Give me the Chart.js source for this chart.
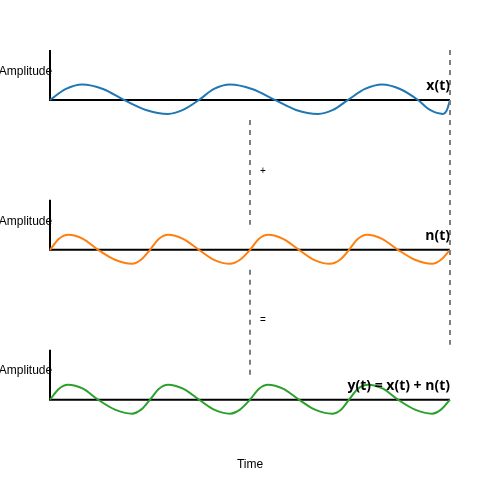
<!DOCTYPE html>
<html>
<head>
<meta charset="utf-8">
<script src="https://cdn.jsdelivr.net/npm/chart.js@4/dist/chart.umd.min.js"></script>
<style>
    html, body { margin: 0; padding: 0; background: #fff; }
    #wrap { width: 500px; height: 500px; }
</style>
</head>
<body>
<div id="wrap"><canvas id="signals"></canvas></div>
<script>
// Values (time 0..400, amplitude in arbitrary units)
const signalTimes = [0, 16, 32, 53, 74, 96, 118, 133, 149, 164, 180, 202, 225, 246, 268, 283, 298, 315, 332, 350, 368, 380, 393, 397, 400];
const signalValues = [0, 1.1, 1.55, 1.1, 0, -1.0, -1.4, -1.0, 0, 1.1, 1.55, 1.1, 0, -1.0, -1.4, -1.0, 0, 1.1, 1.55, 1.1, 0, -1.0, -1.4, -1.0, 0];

const noiseTimes = [0, 9, 18, 33, 48, 65, 82, 91, 100, 109, 118, 133, 149, 164, 180, 190, 200, 209, 218, 233, 249, 264, 280, 290, 299, 308, 317, 332, 348, 365, 382, 391, 400];
const noiseValues = [0, 1.1, 1.5, 1.1, 0, -1.0, -1.4, -1.0, 0, 1.1, 1.5, 1.1, 0, -1.0, -1.4, -1.0, 0, 1.1, 1.5, 1.1, 0, -1.0, -1.4, -1.0, 0, 1.1, 1.5, 1.1, 0, -1.0, -1.4, -1.0, 0];

const sumTimes = [0, 9, 18, 33, 48, 65, 82, 91, 100, 109, 118, 133, 149, 164, 180, 190, 200, 209, 218, 233, 249, 265, 282, 291, 299, 308, 318, 333, 348, 365, 382, 391, 400];
const sumValues = [0, 1.1, 1.5, 1.1, 0, -1.0, -1.4, -1.0, 0, 1.1, 1.5, 1.1, 0, -1.0, -1.4, -1.0, 0, 1.1, 1.5, 1.1, 0, -1.0, -1.4, -1.0, 0, 1.1, 1.5, 1.1, 0, -1.0, -1.4, -1.0, 0];

const panelLabels = ['x(t)', 'n(t)', 'y(t) = x(t) + n(t)'];
const panelColors = ['#1f77b4', '#ff7f0e', '#2ca02c'];
const operators = ['+', '='];
const axisIds = ['y1', 'y2', 'y3'];

function toPoints(times, values) {
    return times.map((t, i) => ({ x: t, y: values[i] }));
}

function panelScale(weight, min, max) {
    return {
        type: 'linear',
        display: false,
        stack: 'panels',
        stackWeight: weight,
        min: min,
        max: max
    };
}

// Axis lines under the curves
const axesPlugin = {
    id: 'panelAxes',
    beforeDatasetsDraw(chart) {
        const ctx = chart.ctx;
        const x = chart.scales.x;
        ctx.save();
        ctx.strokeStyle = '#000';
        ctx.lineWidth = 2;
        axisIds.forEach(id => {
            const y = chart.scales[id];
            const base = y.getPixelForValue(0);
            ctx.beginPath();
            ctx.moveTo(x.left, y.getPixelForValue(y.max));
            ctx.lineTo(x.left, base);
            ctx.lineTo(x.right, base);
            ctx.stroke();
        });
        ctx.restore();
    }
};

// Dashed guides, labels and operators on top
const notesPlugin = {
    id: 'panelNotes',
    afterDatasetsDraw(chart) {
        const ctx = chart.ctx;
        const x = chart.scales.x;
        const ys = axisIds.map(id => chart.scales[id]);
        const midX = x.getPixelForValue(200);

        ctx.save();
        ctx.strokeStyle = '#808080';
        ctx.lineWidth = 2;
        ctx.setLineDash([5, 5]);

        const segments = [
            [ys[0].getPixelForValue(-2), ys[1].getPixelForValue(2.5)],
            [ys[1].getPixelForValue(-2), ys[2].getPixelForValue(2.5)]
        ];
        segments.forEach(seg => {
            ctx.beginPath();
            ctx.moveTo(midX, seg[0]);
            ctx.lineTo(midX, seg[1]);
            ctx.stroke();
        });

        ctx.beginPath();
        ctx.moveTo(x.right, ys[0].getPixelForValue(ys[0].max));
        ctx.lineTo(x.right, ys[2].getPixelForValue(5.5));
        ctx.stroke();
        ctx.setLineDash([]);

        ctx.fillStyle = '#000';
        ys.forEach((y, i) => {
            ctx.font = '12px "Liberation Sans", Arial, sans-serif';
            ctx.textAlign = 'center';
            ctx.textBaseline = 'middle';
            ctx.fillText('Amplitude', x.left - 24.5, y.getPixelForValue(2.85));

            ctx.font = 'bold 14px "Open Sans", sans-serif';
            ctx.textAlign = 'right';
            ctx.textBaseline = 'alphabetic';
            ctx.fillText(panelLabels[i], x.right, y.getPixelForValue(0.95));
        });

        ctx.font = '10px "Liberation Sans", Arial, sans-serif';
        ctx.textAlign = 'center';
        ctx.textBaseline = 'middle';
        ctx.fillStyle = '#000';
        segments.forEach((seg, i) => {
            ctx.fillText(operators[i], x.getPixelForValue(213), (seg[0] + seg[1]) / 2 - 1.5);
        });
        ctx.restore();
    }
};

function lineDataset(times, values, color, axis) {
    return {
        data: toPoints(times, values),
        yAxisID: axis,
        borderColor: color,
        borderWidth: 2,
        pointRadius: 0,
        fill: false,
        cubicInterpolationMode: 'monotone',
        clip: false
    };
}

new Chart(document.getElementById('signals'), {
    type: 'line',
    data: {
        datasets: [
            lineDataset(signalTimes, signalValues, panelColors[0], 'y1'),
            lineDataset(noiseTimes, noiseValues, panelColors[1], 'y2'),
            lineDataset(sumTimes, sumValues, panelColors[2], 'y3')
        ]
    },
    options: {
        responsive: true,
        maintainAspectRatio: false,
        animation: false,
        layout: { padding: { left: 50, right: 50, top: 50, bottom: 24 } },
        plugins: {
            legend: { display: false },
            tooltip: { enabled: false }
        },
        scales: {
            x: {
                type: 'linear',
                min: 0,
                max: 400,
                ticks: { display: false },
                grid: { display: false, drawTicks: false },
                border: { display: false },
                title: {
                    display: true,
                    text: 'Time',
                    color: '#000',
                    font: { family: '"Liberation Sans", Arial, sans-serif', size: 12 },
                    padding: { top: 8, bottom: 4 }
                }
            },
            // left-hand stacks are laid out bottom-up, so the bottom panel comes first
            y3: panelScale(2, -5, 5),
            y2: panelScale(3, -10, 5),
            y1: panelScale(3, -10, 5)
        }
    },
    plugins: [axesPlugin, notesPlugin]
});
</script>
</body>
</html>
